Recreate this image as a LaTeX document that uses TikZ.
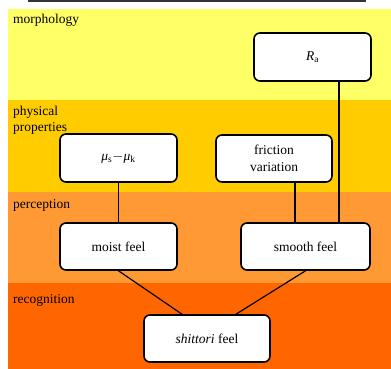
\documentclass[tikz,border=0pt]{standalone}
\usepackage{fontspec}
\setmainfont{Liberation Serif}
\definecolor{morphcol}{HTML}{FFFF66}
\definecolor{physcol}{HTML}{FFCC00}
\definecolor{perccol}{HTML}{FF9933}
\definecolor{recogcol}{HTML}{FF6600}
\begin{document}
\begin{tikzpicture}[x=1pt,y=-1pt,
    box/.style={draw=black,fill=white,line width=1.6pt,rounded corners=6pt,
                align=center,inner sep=0pt},
    level/.style={anchor=west,align=left,inner sep=0pt},
    link/.style={line width=1.2pt},
    font=\fontsize{13.5}{16.5}\selectfont]
    \useasboundingbox (0,0) rectangle (391,369);

    % Ebenen
    \fill[black!80] (28,0) rectangle (366,2);
    \fill[morphcol] (8,9) rectangle (391,100);
    \fill[physcol] (8,100) rectangle (391,192);
    \fill[perccol] (8,192) rectangle (391,283);
    \fill[recogcol] (8,283) rectangle (391,369);
    \node[level] (morph) at (13,20) {morphology};
    \node[level] (phys) at (13,120.5) {physical\\properties};
    \node[level] (perc) at (13,205) {perception};
    \node[level] (recog) at (13,300) {recognition};

    % Kasten
    \node[box,minimum width=117,minimum height=48] (Ra) at (312.5,57) {\textit{R}\textsubscript{a}};
    \node[box,minimum width=117,minimum height=48] (mu) at (118.5,158) {\textit{μ}\textsubscript{s}$-$\textit{μ}\textsubscript{k}};
    \node[box,minimum width=116,minimum height=47] (fric) at (274,158.5) {friction\\variation};
    \node[box,minimum width=117,minimum height=47] (moist) at (118.5,246.5) {moist feel};
    \node[box,minimum width=129,minimum height=47] (smooth) at (305.5,246.5) {smooth feel};
    \node[box,minimum width=126,minimum height=47] (shittori) at (207,338.5) {\textit{shittori} feel};

    % Verbindungen
    \coordinate (rline) at (339,0);
    \coordinate (fline) at (295,0);
    \draw[link] (Ra.south -| rline) -- (smooth.north -| rline);
    \draw[link] (fric.south -| fline) -- (smooth.north -| fline);
    \draw[link] (mu.south) -- (moist.north);
    \draw[link] (moist.south) -- ([xshift=-25]shittori.north);
    \draw[link] (smooth.south) -- ([xshift=29]shittori.north);
\end{tikzpicture}
\end{document}
